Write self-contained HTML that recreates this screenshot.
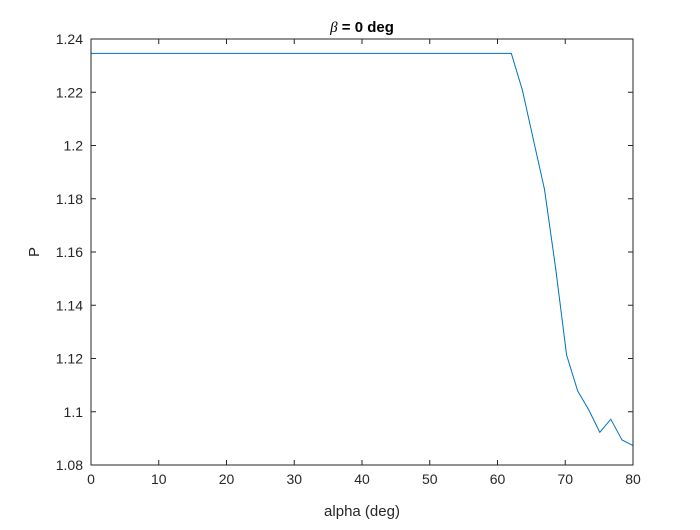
<!DOCTYPE html>
<html><head><meta charset="utf-8"><style>
body{margin:0;background:#fff;width:700px;height:525px;overflow:hidden}
svg{font-family:"Liberation Sans",Arial,sans-serif}
</style></head><body>
<svg id="chart" width="700" height="525">
<rect width="700" height="525" fill="#fff"/>
<g id="grid"></g>
<path id="line" fill="none" stroke="#0072bd" stroke-width="1"/>
<rect x="91" y="39" width="542" height="426" fill="none" stroke="#262626" stroke-width="1"/>
<text x="362" y="32" text-anchor="middle" font-size="15" font-weight="bold" fill="#000"><tspan font-family="Liberation Serif" font-style="italic" font-weight="normal">β</tspan> = 0 deg</text>
<text x="362" y="516" text-anchor="middle" font-size="15" fill="#262626">alpha (deg)</text>
<text transform="translate(39,252) rotate(-90)" text-anchor="middle" font-size="15" fill="#262626">P</text>
</svg>
<script>
const xs=[0,62.04,63.67,65.31,66.94,68.57,70.2,71.84,73.47,75.1,76.73,78.37,80];
const ys=[1.2346,1.2346,1.2208,1.202,1.1835,1.154,1.1213,1.1078,1.1007,1.0923,1.0972,1.0894,1.0873];
const xTicks=[0,10,20,30,40,50,60,70,80];
const yTicks=[1.08,1.1,1.12,1.14,1.16,1.18,1.2,1.22,1.24];
const yTickLabels=["1.08","1.1","1.12","1.14","1.16","1.18","1.2","1.22","1.24"];
const L=91,R=633,T=39,B=465;
const sx=v=>L+(v-0)/(80-0)*(R-L);
const sy=v=>B-(v-1.08)/(1.24-1.08)*(B-T);
const ns="http://www.w3.org/2000/svg";
const g=document.getElementById('grid');
function mk(tag,attrs){const e=document.createElementNS(ns,tag);for(const k in attrs)e.setAttribute(k,attrs[k]);g.appendChild(e);return e;}
xTicks.forEach(v=>{const x=sx(v);
 let t=mk('line',{x1:x,x2:x,y1:B,y2:B-5,stroke:'#262626'});
 
 
 t=mk('line',{x1:x,x2:x,y1:T,y2:T+5,stroke:'#262626'});
 
 
 const l=mk('text',{x:x,y:B+19,'text-anchor':'middle','font-size':14,fill:'#262626'});l.textContent=v;
 
 
});
yTicks.forEach((v,i)=>{const y=sy(v);
 let t=mk('line',{x1:L,x2:L+5,y1:y,y2:y,stroke:'#262626'});
 
 
 t=mk('line',{x1:R,x2:R-5,y1:y,y2:y,stroke:'#262626'});
 
 
 const l=mk('text',{x:L-8,y:y+5,'text-anchor':'end','font-size':14,fill:'#262626'});l.textContent=yTickLabels[i];
 
 
});
document.getElementById('line').setAttribute('d',xs.map((x,i)=>(i?'L':'M')+sx(x).toFixed(1)+','+sy(ys[i]).toFixed(1)).join(''));
</script>
</body></html>
